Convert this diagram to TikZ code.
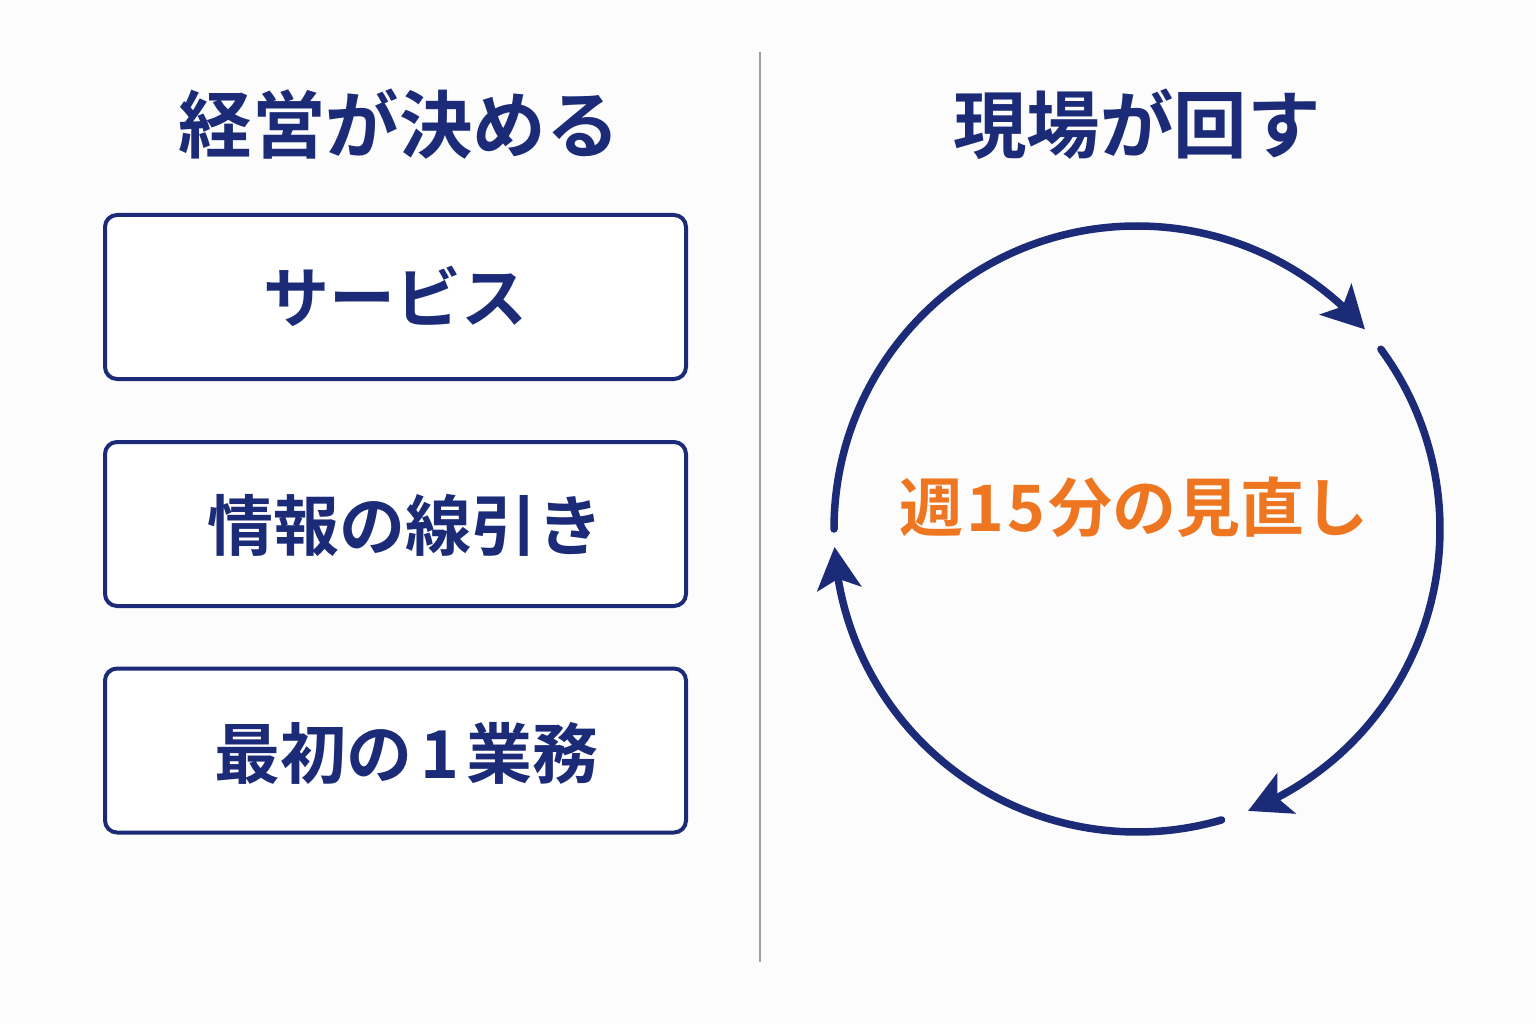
\documentclass[tikz,border=0pt]{standalone}
\usepackage{fontspec}
\newfontfamily\jp{Noto Sans CJK JP}[BoldFont={Noto Sans CJK JP Bold}]
\usetikzlibrary{arrows.meta,bending}
\definecolor{navy}{HTML}{1B2B77}
\definecolor{accent}{HTML}{EE7621}
\definecolor{bg}{HTML}{FCFCFC}
\definecolor{divgray}{HTML}{A0A0A0}
\tikzset{
  txt/.style={inner sep=0pt},
  title/.style={txt, text=navy, text height=64.7pt, text depth=8.8pt, font=\jp\bfseries\fontsize{73.5pt}{80pt}\selectfont},
  boxtext/.style={txt, text=navy, text height=58.1pt, text depth=7.9pt, font=\jp\bfseries\fontsize{66pt}{72pt}\selectfont},
  cycletext/.style={txt, text=accent, text height=56.3pt, text depth=7.7pt, font=\jp\bfseries\fontsize{64pt}{70pt}\selectfont},
  itembox/.style={draw=navy, line width=4pt, rounded corners=12pt, minimum width=581pt, minimum height=164pt, inner sep=0pt, fill=white},
  divider/.style={draw=divgray, line width=2pt},
  cyc/.style={draw=navy, line width=7.5pt, line cap=round, -{Stealth[length=42pt,width=44pt,inset=10pt]}}
}
\begin{document}
\begin{tikzpicture}[x=1pt,y=-1pt]
\fill[bg] (0,0) rectangle (1536,1024);
\useasboundingbox (0,0) rectangle (1536,1024);
% divider
\coordinate (dtop) at (760,52);
\coordinate (dbot) at (760,962);
\draw[divider] (dtop) -- (dbot);
% left
\node[title] (ltitle) at (399,125) {経営が決める};
\node[itembox] (box1) at (395.5,297) {};
\node[itembox] (box2) at (395.5,524) {};
\node[itembox] (box3) at (395.5,750.5) {};
\node[boxtext] (t1) at (395,297.5) {サービス};
\node[boxtext] (t2) at (405,525) {情報の線引き};
\node[boxtext] (t3) at (406.5,753.5) {最初の\hspace{8pt}1\hspace{8pt}業務};
% right
\node[title] (rtitle) at (1137,125) {現場が回す};
\coordinate (C) at (1137,529);
\node[cycletext] (ctext) at (1134,507) {週\hspace{3pt}1\hspace{4pt}5\hspace{3pt}分の見直し};
\draw[cyc] ([shift={(-180:303)}]C) arc[start angle=-180, end angle=-41.2, radius=303];
\draw[cyc] ([shift={(-36.4:303)}]C) arc[start angle=-36.4, end angle=68.5, radius=303];
\draw[cyc] ([shift={(73.8:303)}]C) arc[start angle=73.8, end angle=176.6, radius=303];
\end{tikzpicture}
\end{document}
